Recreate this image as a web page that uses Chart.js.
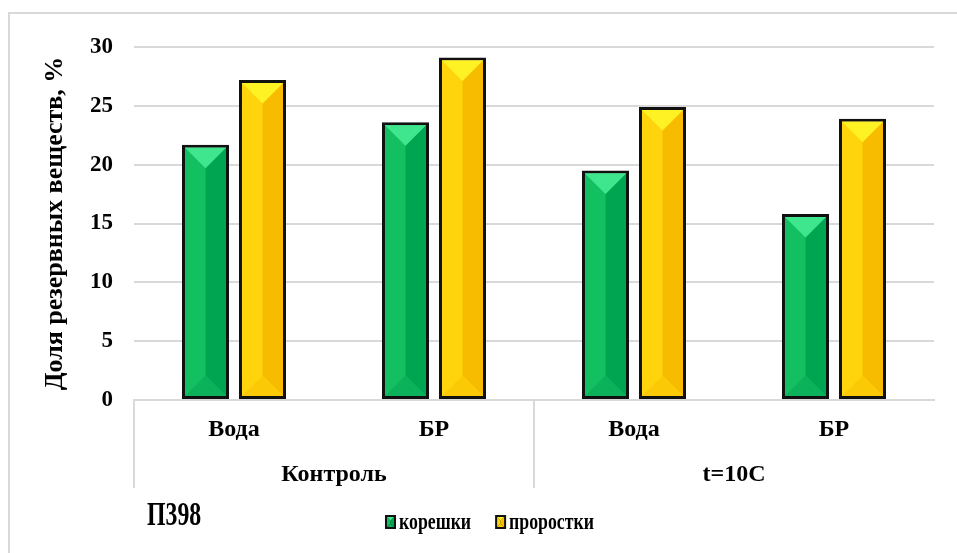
<!DOCTYPE html>
<html>
<head>
<meta charset="utf-8">
<script src="https://cdn.jsdelivr.net/npm/chart.js@4"></script>
<style>
  html, body { margin: 0; padding: 0; background: #fff; }
  #wrap { width: 957px; height: 553px; position: relative; }
</style>
</head>
<body>
<div id="wrap"><canvas id="c" width="957" height="553"></canvas></div>
<script>
// Treatments (first level) and conditions (second level)
const treatments = ['Вода', 'БР', 'Вода', 'БР'];
const conditions = ['Контроль', 't=10C'];
const seriesNames = ['корешки', 'проростки'];
// Share of reserve substances, %
const roots = [21.7, 23.6, 19.5, 15.8];
const sprouts = [27.2, 29.1, 24.9, 23.9];
const yTicks = [0, 5, 10, 15, 20, 25, 30];
const yTitle = 'Доля резервных веществ, %';
const varietyLabel = 'П398';

const SERIF = "'Liberation Serif', 'Times New Roman', serif";

// Facet colours for the bevelled bars: top, left, right, bottom
const facets = [
  { top: '#40e68e', left: '#12c062', right: '#00a552', bottom: '#0bb259' },
  { top: '#fff224', left: '#ffd40c', right: '#f7bc00', bottom: '#fcc906' }
];

function drawBevel(ctx, L, T, R, B, f) {
  const w = R - L, h = B - T;
  if (w <= 0 || h <= 0) return;
  const cx = (L + R) / 2;
  let d = w / 2;
  if (2 * d > h) d = h / 2;
  const yt = T + d, yb = B - d;
  const poly = (pts, col) => {
    ctx.beginPath();
    ctx.moveTo(pts[0][0], pts[0][1]);
    for (let i = 1; i < pts.length; i++) ctx.lineTo(pts[i][0], pts[i][1]);
    ctx.closePath();
    ctx.fillStyle = col;
    ctx.fill();
  };
  poly([[L, T], [cx, yt], [cx, yb], [L, B]], f.left);
  poly([[R, T], [cx, yt], [cx, yb], [R, B]], f.right);
  poly([[L, B], [cx, yb], [R, B]], f.bottom);
  poly([[L, T], [R, T], [cx, yt]], f.top);
}

// Text drawn narrower than the font's natural width
function narrowText(ctx, text, x, y, sx) {
  ctx.save();
  ctx.translate(x, y);
  ctx.scale(sx, 1);
  ctx.fillText(text, 0, 0);
  ctx.restore();
  return ctx.measureText(text).width * sx;
}

const bevelPlugin = {
  id: 'bevel',
  beforeDraw(chart) {
    const ctx = chart.ctx;
    ctx.save();
    ctx.strokeStyle = '#d9d9d9';
    ctx.lineWidth = 2;
    ctx.strokeRect(9, 13, 1200, 1200);
    ctx.restore();
  },
  afterDatasetsDraw(chart) {
    const ctx = chart.ctx;
    chart.data.datasets.forEach((ds, di) => {
      const meta = chart.getDatasetMeta(di);
      const bw = ds.borderWidth;
      meta.data.forEach(bar => {
        const p = bar.getProps(['x', 'y', 'base', 'width'], true);
        const L = p.x - p.width / 2 + bw, R = p.x + p.width / 2 - bw;
        const T = Math.min(p.y, p.base) + bw, B = Math.max(p.y, p.base) - bw;
        ctx.save();
        drawBevel(ctx, L, T, R, B, facets[di]);
        ctx.restore();
      });
    });
  },
  afterDraw(chart) {
    const ctx = chart.ctx;
    ctx.save();
    ctx.fillStyle = '#000';
    ctx.textBaseline = 'middle';
    ctx.textAlign = 'left';
    // variety name
    ctx.font = 'bold 34px ' + SERIF;
    narrowText(ctx, varietyLabel, 147, 516, 0.7);
    // legend
    ctx.font = 'bold 24px ' + SERIF;
    let x = 385;
    seriesNames.forEach((name, i) => {
      const bx = x, by = 515, bwid = 11, bh = 14;
      ctx.fillStyle = '#111';
      ctx.fillRect(bx, by, bwid, bh);
      drawBevel(ctx, bx + 2, by + 2, bx + bwid - 2, by + bh - 2, facets[i]);
      ctx.fillStyle = '#000';
      const tw = narrowText(ctx, name, bx + bwid + 3, 523, 0.74);
      x = bx + bwid + 3 + tw + 24;
    });
    ctx.restore();
  }
};

new Chart(document.getElementById('c'), {
  type: 'bar',
  data: {
    labels: treatments,
    datasets: [
      { label: seriesNames[0], data: roots, backgroundColor: facets[0].left,
        borderColor: '#111', borderWidth: 3, borderSkipped: false, xAxisID: 'x' },
      { label: seriesNames[1], data: sprouts, backgroundColor: facets[1].left,
        borderColor: '#111', borderWidth: 3, borderSkipped: false, xAxisID: 'x' }
    ]
  },
  options: {
    responsive: false,
    animation: false,
    layout: { padding: { left: 10, top: 47, right: 23, bottom: 65 } },
    datasets: { bar: { categoryPercentage: 0.57, barPercentage: 0.825 } },
    plugins: {
      legend: { display: false },
      tooltip: { enabled: false }
    },
    scales: {
      x: {
        type: 'category',
        position: 'bottom',
        offset: true,
        border: { display: true, color: '#d9d9d9', width: 2 },
        grid: {
          display: true, drawOnChartArea: false, drawTicks: true, offset: true,
          tickLength: 88, lineWidth: 2,
          color: ctx => (ctx.index % 2 === 0 ? '#d9d9d9' : 'rgba(0,0,0,0)')
        },
        ticks: { color: '#000', font: { family: SERIF, size: 24, weight: 'bold' }, padding: -73 },
        afterFit: s => { s.height = 44; }
      },
      x2: {
        type: 'category',
        position: 'bottom',
        labels: conditions,
        offset: true,
        border: { display: false },
        grid: { display: false },
        ticks: { color: '#000', font: { family: SERIF, size: 24, weight: 'bold' }, padding: 8 },
        afterFit: s => { s.height = 44; }
      },
      y: {
        min: 0, max: 30,
        border: { display: false },
        grid: { color: '#d9d9d9', lineWidth: 2, drawTicks: false },
        afterBuildTicks: s => { s.ticks = yTicks.map(v => ({ value: v })); },
        ticks: { color: '#000', font: { family: SERIF, size: 23, weight: 'bold' }, padding: 21 },
        title: { display: true, text: yTitle, color: '#000',
                 font: { family: SERIF, size: 26, weight: 'bold' }, padding: { top: 30, bottom: 0 } },
        afterFit: s => { s.width = 124; }
      }
    }
  },
  plugins: [bevelPlugin]
});
</script>
</body>
</html>
